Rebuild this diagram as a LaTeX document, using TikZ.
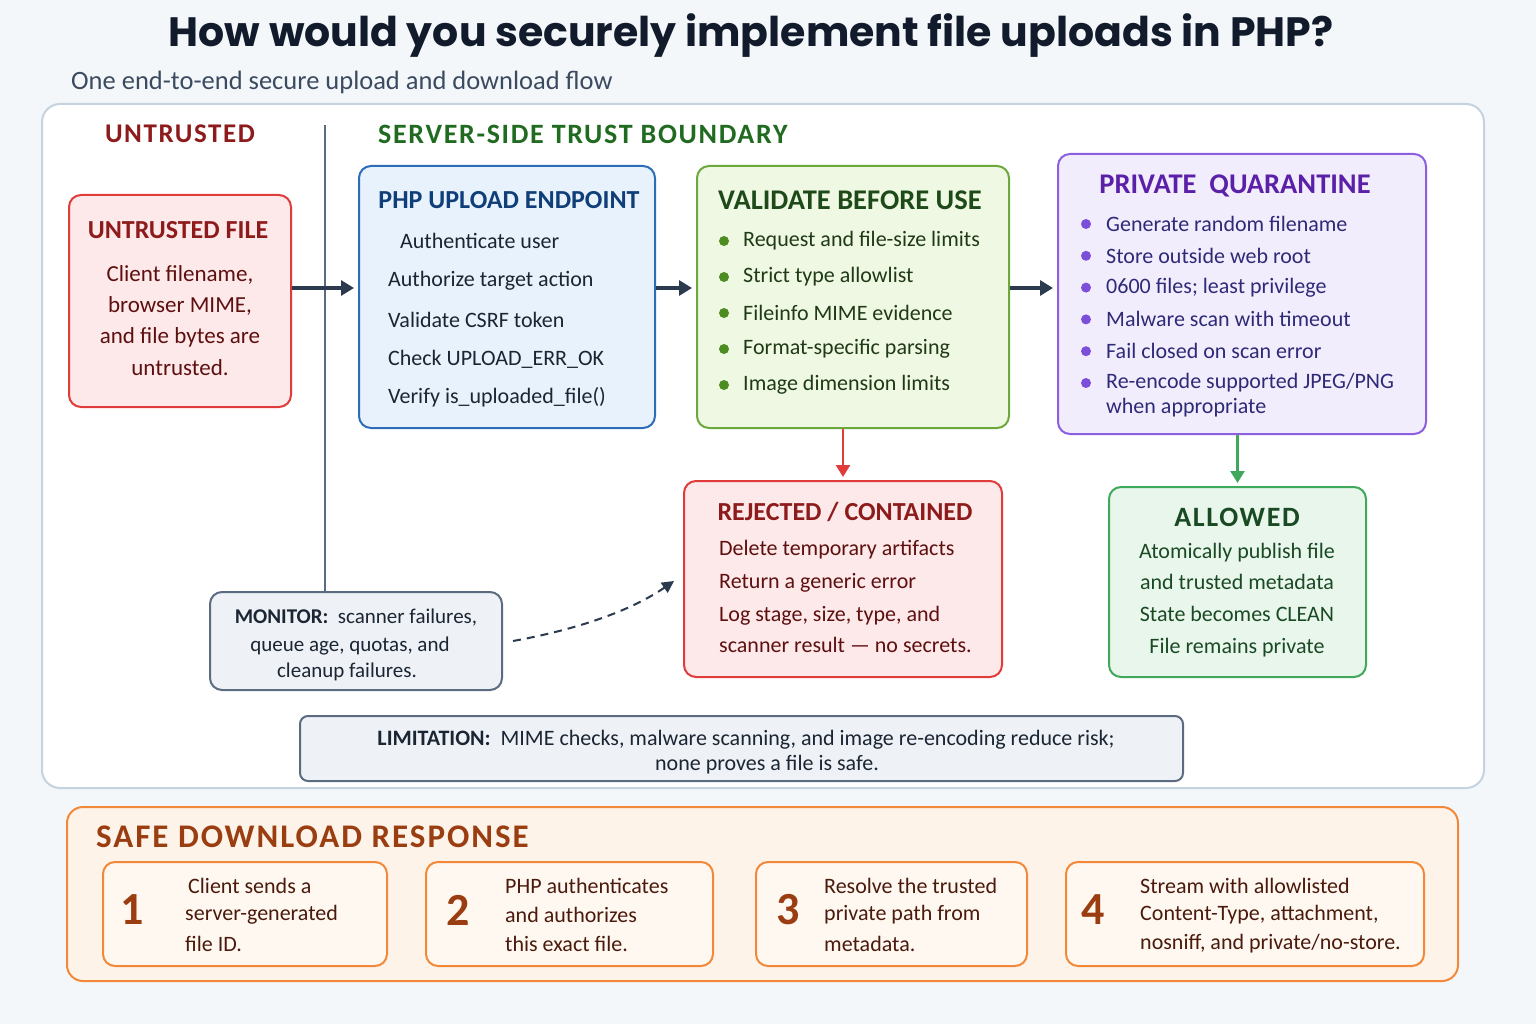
\documentclass[tikz,border=0pt]{standalone}
\usepackage{fontspec}
\setmainfont{Carlito}
\newfontfamily\titlefont{Poppins}
\newfontfamily\headfont[LetterSpace=6]{Carlito}
\usetikzlibrary{arrows.meta,calc}
\definecolor{bgcol}{HTML}{F4F7FA}
\definecolor{paneline}{HTML}{C5D2DF}
\definecolor{titlecol}{HTML}{111B2C}
\definecolor{subcol}{HTML}{3A4A60}
\definecolor{arrowcol}{HTML}{2B3A4E}
\definecolor{redline}{HTML}{E03C3C}
\definecolor{redfill}{HTML}{FDE9E9}
\definecolor{redhead}{HTML}{8E1B1B}
\definecolor{redtext}{HTML}{5E1010}
\definecolor{blueline}{HTML}{2D6DB8}
\definecolor{bluefill}{HTML}{E7F2FC}
\definecolor{bluehead}{HTML}{103E78}
\definecolor{bodytext}{HTML}{1B2533}
\definecolor{greenline}{HTML}{6DA83C}
\definecolor{greenfill}{HTML}{EFF8E3}
\definecolor{greenhead}{HTML}{1E4A1A}
\definecolor{greendot}{HTML}{4C8C20}
\definecolor{greentext}{HTML}{1F3A14}
\definecolor{serverhead}{HTML}{216B21}
\definecolor{purpline}{HTML}{8B5FE0}
\definecolor{purpfill}{HTML}{F2EDFC}
\definecolor{purphead}{HTML}{5B20A8}
\definecolor{purpdot}{HTML}{7B4FDA}
\definecolor{purptext}{HTML}{2E2A78}
\definecolor{allowline}{HTML}{40A85A}
\definecolor{allowfill}{HTML}{E9F6EC}
\definecolor{allowtext}{HTML}{1A4A24}
\definecolor{grayline}{HTML}{5B6B80}
\definecolor{grayfill}{HTML}{EEF2F6}
\definecolor{orangeline}{HTML}{F2893A}
\definecolor{orangefill}{HTML}{FEF3E8}
\definecolor{stepfill}{HTML}{FFF8F1}
\definecolor{orangehead}{HTML}{9A3E12}
\definecolor{steptext}{HTML}{4A1A0C}

\begin{document}
\begin{tikzpicture}[x=1pt,y=-1pt,
  box/.style={draw,rounded corners=12pt,line width=2pt,inner sep=0pt},
  boxtitle/.style={inner sep=0pt,font=\fontsize{26}{30}\selectfont\bfseries},
  line/.style={inner sep=0pt,anchor=west,font=\fontsize{22}{26}\selectfont},
  cline/.style={inner sep=0pt,font=\fontsize{22}{26}\selectfont},
  flow/.style={line width=3pt,draw=arrowcol,-{Triangle[length=13pt,width=15pt]},shorten >=4pt},
  stepnum/.style={inner sep=0pt,text=orangehead,font=\fontsize{46}{50}\selectfont\bfseries}]

\fill[bgcol] (0,0) rectangle (1536,1024);
\useasboundingbox (0,0) rectangle (1536,1024);

% title
\node[inner sep=0pt,text=titlecol,font=\titlefont\bfseries\fontsize{41}{48}\selectfont] (title) at (751,36) {How would you securely implement file uploads in PHP?};
\node[inner sep=0pt,anchor=west,text=subcol,font=\fontsize{26.5}{30}\selectfont] (subtitle) at (71,82) {One end-to-end secure upload and download flow};

% upload panel
\node[box,draw=paneline,fill=white,rounded corners=18pt,minimum width=1442,minimum height=684] (panel) at (763,446) {};
\node[inner sep=0pt,text=redhead,font=\headfont\fontsize{27}{30}\selectfont\bfseries] (untrusted) at (180,134) {UNTRUSTED};
\node[inner sep=0pt,anchor=west,text=serverhead,font=\headfont\fontsize{28}{32}\selectfont\bfseries] (server) at (378,134) {SERVER-SIDE TRUST BOUNDARY};

\node[box,draw=redline,fill=redfill,minimum width=222,minimum height=212] (ufile) at (180,301) {};
\node[box,draw=blueline,fill=bluefill,minimum width=296,minimum height=262] (php) at (507,297) {};
\node[box,draw=greenline,fill=greenfill,minimum width=312,minimum height=262] (valid) at (853,297) {};
\node[box,draw=purpline,fill=purpfill,minimum width=368,minimum height=280] (quar) at (1242,294) {};
\node[box,draw=redline,fill=redfill,minimum width=318,minimum height=196] (rej) at (843,579) {};
\node[box,draw=allowline,fill=allowfill,minimum width=257,minimum height=190] (allow) at (1237.5,582) {};
\node[box,draw=grayline,fill=grayfill,minimum width=292,minimum height=98] (mon) at (356,641) {};
\node[box,draw=grayline,fill=grayfill,rounded corners=8pt,minimum width=883,minimum height=65] (lim) at (741.5,748.5) {};

% trust boundary
\coordinate (divtop) at (325,125);
\draw[grayline,line width=1.6pt] (divtop) -- (divtop |- mon.north);

% untrusted file
\node[boxtitle,text=redhead] (ufile-t) at (178,230) {UNTRUSTED FILE};
\foreach \t [count=\i] in {{Client filename,},{browser MIME,},{and file bytes are},{untrusted.}}{
  \node[cline,text=redtext,font=\fontsize{23}{26}\selectfont] (ufile-\i) at (180,{244+31*\i}) {\t};
}

% php endpoint
\node[boxtitle,text=bluehead] (php-t) at (509,200) {PHP UPLOAD ENDPOINT};
\node[line,text=bodytext] (php-1) at (400,241) {Authenticate user};
\node[line,text=bodytext] (php-2) at (388,281) {Authorize target action};
\node[line,text=bodytext] (php-3) at (388,320) {Validate CSRF token};
\node[line,text=bodytext] (php-4) at (388,359) {Check UPLOAD\_ERR\_OK};
\node[line,text=bodytext] (php-5) at (388,397) {Verify is\_uploaded\_file()};

% validate
\node[boxtitle,anchor=west,text=greenhead,font=\fontsize{28.5}{32}\selectfont\bfseries] (valid-t) at (718,200) {VALIDATE BEFORE USE};
\foreach \t [count=\i] in {Request and file-size limits,Strict type allowlist,Fileinfo MIME evidence,Format-specific parsing,Image dimension limits}{
  \fill[greendot] (724,{205+36*\i}) circle (5pt);
  \node[line,text=greentext] (valid-\i) at (743,{205+36*\i}) {\t};
}

% quarantine
\node[boxtitle,text=purphead,font=\fontsize{28.5}{32}\selectfont\bfseries] (quar-t) at (1235,186) {PRIVATE\ \ QUARANTINE};
\foreach \t [count=\i] in {Generate random filename,Store outside web root,{0600 files; least privilege},Malware scan with timeout,Fail closed on scan error,Re-encode supported JPEG/PNG}{
  \fill[purpdot] (1086,{192.2+31.8*\i}) circle (5pt);
  \node[line,text=purptext] (quar-\i) at (1106,{192.2+31.8*\i}) {\t};
}
\node[line,text=purptext] (quar-7) at (1106,408) {when appropriate};

% rejected
\node[boxtitle,text=redhead] (rej-t) at (845,512) {REJECTED / CONTAINED};
\node[line,text=redtext] (rej-1) at (719,550) {Delete temporary artifacts};
\node[line,text=redtext] (rej-2) at (719,583) {Return a generic error};
\node[line,text=redtext] (rej-3) at (719,616) {Log stage, size, type, and};
\node[line,text=redtext] (rej-4) at (719,645) {scanner result — no secrets.};

% allowed
\node[inner sep=0pt,text=allowtext,font=\headfont\fontsize{28}{32}\selectfont\bfseries] (allow-t) at (1237,517) {ALLOWED};
\node[cline,text=allowtext] (allow-1) at (1237,553) {Atomically publish file};
\node[cline,text=allowtext] (allow-2) at (1237,582) {and trusted metadata};
\node[cline,text=allowtext] (allow-3) at (1237,614) {State becomes CLEAN};
\node[cline,text=allowtext] (allow-4) at (1237,648) {File remains private};

% monitor, limitation
\node[cline,text=bodytext,font=\fontsize{21}{25}\selectfont] (mon-1) at (356,618) {\textbf{MONITOR:}\ \ scanner failures,};
\node[cline,text=bodytext,font=\fontsize{21}{25}\selectfont] (mon-2) at (350,646) {queue age, quotas, and};
\node[cline,text=bodytext,font=\fontsize{21}{25}\selectfont] (mon-3) at (347,672) {cleanup failures.};
\node[cline,text=bodytext,font=\fontsize{22}{25}\selectfont] (lim-1) at (746,740) {\textbf{LIMITATION:}\ \ MIME checks,\ malware scanning, and image re-encoding reduce risk;};
\node[cline,text=bodytext,font=\fontsize{22}{25}\selectfont] (lim-2) at (767,765) {none proves a file is safe.};

% connectors
\coordinate (rowy) at (0,288);
\draw[flow] (ufile.east |- rowy) -- (php.west |- rowy);
\draw[flow] (php.east |- rowy) -- (valid.west |- rowy);
\draw[flow] (valid.east |- rowy) -- (quar.west |- rowy);
\draw[line width=2.5pt,draw=redline,-{Triangle[length=12pt,width=14pt]},shorten >=3pt] (valid.south -| rej.north) -- (rej.north);
\draw[line width=2.5pt,draw=allowline,-{Triangle[length=12pt,width=14pt]},shorten >=3pt] (quar.south -| allow.north) -- (allow.north);
\coordinate (dashfrom) at ($(mon.east)+(10,0)$);
\coordinate (dashto) at ($(rej.west)+(-9,2)$);
\draw[arrowcol,line width=2pt,dash pattern=on 8pt off 6pt,-{Triangle[length=12pt,width=12pt]}] (dashfrom) .. controls (585,628) and (635,608) .. (dashto);

% download panel
\node[box,draw=orangeline,fill=orangefill,rounded corners=16pt,minimum width=1391,minimum height=174] (dl) at (762.5,894) {};
\node[inner sep=0pt,anchor=west,text=orangehead,font=\headfont\fontsize{33}{38}\selectfont\bfseries] (dl-t) at (96,837) {SAFE DOWNLOAD RESPONSE};

\foreach \cx/\w/\nx/\tx [count=\i] in {245/284/132/185,569.5/287/458/505,891.5/271/788/824,1245/358/1093/1140}{
  \node[box,draw=orangeline,fill=stepfill,minimum width=\w,minimum height=104] (s\i) at (\cx,914) {};
  \node[stepnum] (s\i-n) at (\nx,910) {\i};
}
\node[line,text=steptext] (s1-1) at (188,886) {Client sends a};
\node[line,text=steptext] (s1-2) at (185,915) {server-generated};
\node[line,text=steptext] (s1-3) at (185,944) {file ID.};
\node[line,text=steptext] (s2-1) at (505,886) {PHP authenticates};
\node[line,text=steptext] (s2-2) at (505,915) {and authorizes};
\node[line,text=steptext] (s2-3) at (505,944) {this exact file.};
\node[line,text=steptext] (s3-1) at (824,886) {Resolve the trusted};
\node[line,text=steptext] (s3-2) at (824,915) {private path from};
\node[line,text=steptext] (s3-3) at (824,944) {metadata.};
\node[line,text=steptext] (s4-1) at (1140,886) {Stream with allowlisted};
\node[line,text=steptext] (s4-2) at (1140,915) {Content-Type, attachment,};
\node[line,text=steptext] (s4-3) at (1140,944) {nosniff, and private/no-store.};
\end{tikzpicture}
\end{document}
